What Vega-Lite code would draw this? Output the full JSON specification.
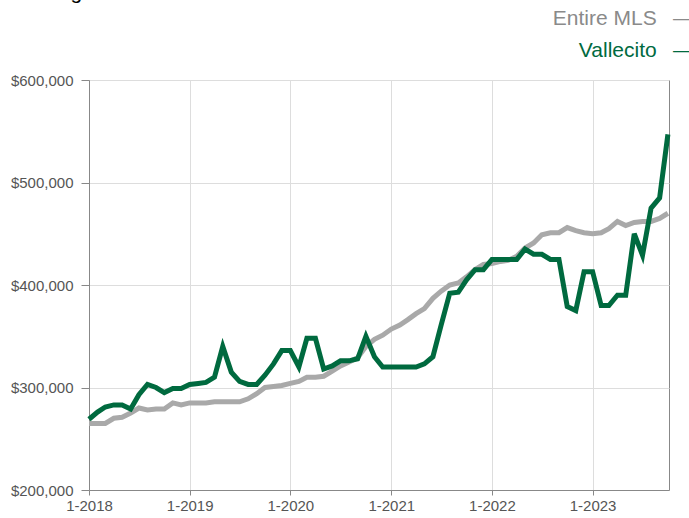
{
  "$schema": "https://vega.github.io/schema/vega-lite/v6.json",
  "autosize": {"type": "none"},
  "width": 580,
  "height": 410,
  "padding": {"left": 89, "top": 80, "right": 20, "bottom": 28},
  "background": "white",
  "title": {
    "text": "Rolling 12-Month Calculation",
    "anchor": "start",
    "frame": "group",
    "orient": "top",
    "baseline": "alphabetic",
    "offset": 0,
    "dx": -71,
    "dy": 12,
    "fontSize": 21,
    "font": "Liberation Sans",
    "fontWeight": "normal",
    "color": "#000000"
  },
  "data": {
    "values": [
      {"date": "2018-01-01", "Entire MLS": 265000, "Vallecito": 269000},
      {"date": "2018-02-01", "Entire MLS": 265000, "Vallecito": 276000},
      {"date": "2018-03-01", "Entire MLS": 265000, "Vallecito": 281000},
      {"date": "2018-04-01", "Entire MLS": 270000, "Vallecito": 283000},
      {"date": "2018-05-01", "Entire MLS": 271000, "Vallecito": 283000},
      {"date": "2018-06-01", "Entire MLS": 275000, "Vallecito": 279000},
      {"date": "2018-07-01", "Entire MLS": 280000, "Vallecito": 293000},
      {"date": "2018-08-01", "Entire MLS": 278000, "Vallecito": 303000},
      {"date": "2018-09-01", "Entire MLS": 279000, "Vallecito": 300000},
      {"date": "2018-10-01", "Entire MLS": 279000, "Vallecito": 295000},
      {"date": "2018-11-01", "Entire MLS": 285000, "Vallecito": 299000},
      {"date": "2018-12-01", "Entire MLS": 283000, "Vallecito": 299000},
      {"date": "2019-01-01", "Entire MLS": 285000, "Vallecito": 303000},
      {"date": "2019-02-01", "Entire MLS": 285000, "Vallecito": 304000},
      {"date": "2019-03-01", "Entire MLS": 285000, "Vallecito": 305000},
      {"date": "2019-04-01", "Entire MLS": 286000, "Vallecito": 310000},
      {"date": "2019-05-01", "Entire MLS": 286000, "Vallecito": 340000},
      {"date": "2019-06-01", "Entire MLS": 286000, "Vallecito": 315000},
      {"date": "2019-07-01", "Entire MLS": 286000, "Vallecito": 306000},
      {"date": "2019-08-01", "Entire MLS": 289000, "Vallecito": 303000},
      {"date": "2019-09-01", "Entire MLS": 294000, "Vallecito": 303000},
      {"date": "2019-10-01", "Entire MLS": 300000, "Vallecito": 312000},
      {"date": "2019-11-01", "Entire MLS": 301000, "Vallecito": 323000},
      {"date": "2019-12-01", "Entire MLS": 302000, "Vallecito": 336000},
      {"date": "2020-01-01", "Entire MLS": 304000, "Vallecito": 336000},
      {"date": "2020-02-01", "Entire MLS": 306000, "Vallecito": 320000},
      {"date": "2020-03-01", "Entire MLS": 310000, "Vallecito": 348000},
      {"date": "2020-04-01", "Entire MLS": 310000, "Vallecito": 348000},
      {"date": "2020-05-01", "Entire MLS": 311000, "Vallecito": 318000},
      {"date": "2020-06-01", "Entire MLS": 316000, "Vallecito": 321000},
      {"date": "2020-07-01", "Entire MLS": 321000, "Vallecito": 326000},
      {"date": "2020-08-01", "Entire MLS": 325000, "Vallecito": 326000},
      {"date": "2020-09-01", "Entire MLS": 329000, "Vallecito": 328000},
      {"date": "2020-10-01", "Entire MLS": 340000, "Vallecito": 350000},
      {"date": "2020-11-01", "Entire MLS": 347000, "Vallecito": 330000},
      {"date": "2020-12-01", "Entire MLS": 351000, "Vallecito": 320000},
      {"date": "2021-01-01", "Entire MLS": 357000, "Vallecito": 320000},
      {"date": "2021-02-01", "Entire MLS": 361000, "Vallecito": 320000},
      {"date": "2021-03-01", "Entire MLS": 366000, "Vallecito": 320000},
      {"date": "2021-04-01", "Entire MLS": 372000, "Vallecito": 320000},
      {"date": "2021-05-01", "Entire MLS": 377000, "Vallecito": 323000},
      {"date": "2021-06-01", "Entire MLS": 387000, "Vallecito": 330000},
      {"date": "2021-07-01", "Entire MLS": 394000, "Vallecito": 361000},
      {"date": "2021-08-01", "Entire MLS": 400000, "Vallecito": 392000},
      {"date": "2021-09-01", "Entire MLS": 402000, "Vallecito": 393000},
      {"date": "2021-10-01", "Entire MLS": 408000, "Vallecito": 405000},
      {"date": "2021-11-01", "Entire MLS": 415000, "Vallecito": 415000},
      {"date": "2021-12-01", "Entire MLS": 420000, "Vallecito": 415000},
      {"date": "2022-01-01", "Entire MLS": 421000, "Vallecito": 425000},
      {"date": "2022-02-01", "Entire MLS": 423000, "Vallecito": 425000},
      {"date": "2022-03-01", "Entire MLS": 424000, "Vallecito": 425000},
      {"date": "2022-04-01", "Entire MLS": 428000, "Vallecito": 425000},
      {"date": "2022-05-01", "Entire MLS": 436000, "Vallecito": 435000},
      {"date": "2022-06-01", "Entire MLS": 441000, "Vallecito": 430000},
      {"date": "2022-07-01", "Entire MLS": 449000, "Vallecito": 430000},
      {"date": "2022-08-01", "Entire MLS": 451000, "Vallecito": 425000},
      {"date": "2022-09-01", "Entire MLS": 451000, "Vallecito": 425000},
      {"date": "2022-10-01", "Entire MLS": 456000, "Vallecito": 379000},
      {"date": "2022-11-01", "Entire MLS": 453000, "Vallecito": 375000},
      {"date": "2022-12-01", "Entire MLS": 451000, "Vallecito": 413000},
      {"date": "2023-01-01", "Entire MLS": 450000, "Vallecito": 413000},
      {"date": "2023-02-01", "Entire MLS": 451000, "Vallecito": 380000},
      {"date": "2023-03-01", "Entire MLS": 455000, "Vallecito": 380000},
      {"date": "2023-04-01", "Entire MLS": 462000, "Vallecito": 390000},
      {"date": "2023-05-01", "Entire MLS": 458000, "Vallecito": 390000},
      {"date": "2023-06-01", "Entire MLS": 461000, "Vallecito": 450000},
      {"date": "2023-07-01", "Entire MLS": 462000, "Vallecito": 429000},
      {"date": "2023-08-01", "Entire MLS": 462000, "Vallecito": 475000},
      {"date": "2023-09-01", "Entire MLS": 465000, "Vallecito": 485000},
      {"date": "2023-10-01", "Entire MLS": 470000, "Vallecito": 547000}
    ]
  },
  "transform": [
    {"fold": ["Entire MLS", "Vallecito"], "as": ["series", "price"]}
  ],
  "mark": {"type": "line", "strokeWidth": 5, "strokeJoin": "miter"},
  "encoding": {
    "x": {
      "field": "date",
      "type": "temporal",
      "scale": {"domain": [{"year": 2018, "month": 1, "date": 1}, {"year": 2023, "month": 10, "date": 5}], "nice": false},
      "axis": {
        "title": null,
        "format": "%-m-%Y",
        "tickCount": {"interval": "year", "step": 1},
        "grid": true,
        "gridColor": "#dddddd",
        "domainColor": "#888888",
        "tickColor": "#888888",
        "tickSize": 5,
        "labelFontSize": 15,
        "labelFont": "Liberation Sans",
        "labelColor": "#555555",
        "labelPadding": 3,
        "labelFlush": false
      }
    },
    "y": {
      "field": "price",
      "type": "quantitative",
      "scale": {"domain": [200000, 600000], "nice": false, "zero": false},
      "axis": {
        "title": null,
        "values": [200000, 300000, 400000, 500000, 600000],
        "format": "$,.0f",
        "grid": true,
        "gridColor": "#dddddd",
        "domainColor": "#888888",
        "tickColor": "#888888",
        "tickSize": 8,
        "labelFontSize": 15,
        "labelFont": "Liberation Sans",
        "labelColor": "#555555",
        "labelPadding": 8
      }
    },
    "color": {
      "field": "series",
      "type": "nominal",
      "scale": {"domain": ["Entire MLS", "Vallecito"], "range": ["#a9a9a9", "#006a3f"]},
      "legend": {
        "title": null,
        "orient": "none",
        "legendX": 584,
        "legendY": -72,
        "direction": "vertical",
        "padding": 0,
        "symbolOpacity": 0,
        "symbolSize": 1,
        "labelAlign": "right",
        "labelOffset": 0,
        "labelFontSize": 21,
        "labelFont": "Liberation Sans",
        "labelLimit": 400,
        "rowPadding": 10,
        "labelExpr": "datum.label + '\u2002 \u2014'",
        "labelColor": {"expr": "datum.value == 'Vallecito' ? '#006a3f' : '#8a8a8a'"}
      }
    }
  },
  "config": {
    "view": {"stroke": "#888888", "strokeWidth": 1}
  }
}
